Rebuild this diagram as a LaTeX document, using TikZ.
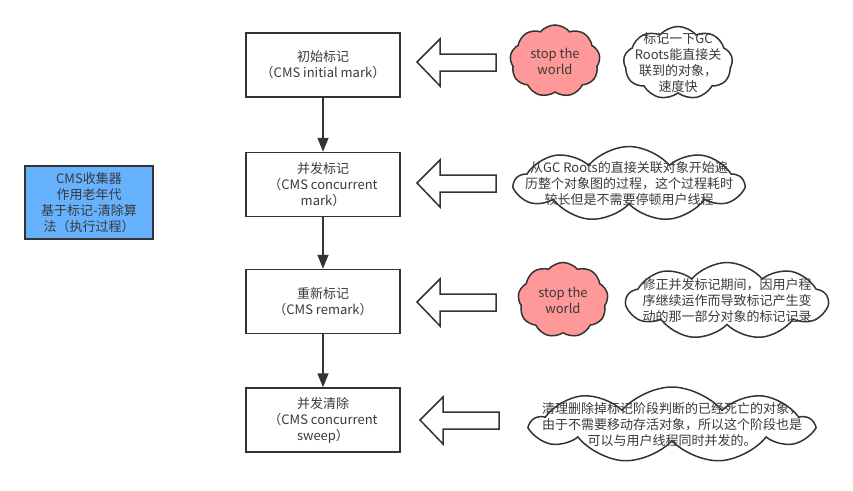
\documentclass[tikz,border=0pt]{standalone}
\usepackage{fontspec}
\setmainfont{Noto Sans CJK SC}
\usepackage{tikz}
\usetikzlibrary{arrows.meta,shapes.symbols}
\definecolor{ink}{HTML}{333333}
\definecolor{txt}{HTML}{3A3A3A}
\definecolor{blue}{HTML}{66B2FF}
\definecolor{red}{HTML}{FF9999}
\tikzset{
  stage/.style={draw=ink, line width=1.5pt, fill=white, minimum width=154pt, minimum height=64pt, align=center, text=txt, inner sep=0pt},
  info/.style={draw=ink, line width=1.5pt, fill=blue, minimum width=128pt, minimum height=73pt, align=center, text=txt, inner sep=0pt},
  flow/.style={draw=ink, line width=1.5pt, -{Triangle[length=14pt,width=11pt]}},
  fat/.style={draw=ink, line width=1.5pt, fill=white, line join=miter},
  puff/.style={cloud, cloud puffs=9, cloud puff arc=100, draw=ink, line width=1.5pt, fill=white, inner sep=0pt},
  stw/.style={puff, fill=red},
  lab/.style={text=txt, align=center, inner sep=0pt},
}

\begin{document}
\begin{tikzpicture}[x=1pt, y=-1pt, font=\fontsize{13}{16}\selectfont]
  \useasboundingbox (0,0) rectangle (853,490);
  \node[info] (cms) at (89,202.5) {CMS收集器\\作用老年代\\基于标记-清除算\\法（执行过程）};
  \node[stage] (b1) at (323,65) {初始标记\\（CMS initial mark）};
  \node[stage] (b2) at (323,184.5) {并发标记\\（CMS concurrent\\mark）};
  \node[stage] (b3) at (323,301.5) {重新标记\\（CMS remark）};
  \node[stage] (b4) at (323,420) {并发清除\\（CMS concurrent\\sweep）};
  \draw[flow] (b1) -- (b2);
  \draw[flow] (b2) -- (b3);
  \draw[flow] (b3) -- (b4);
  \foreach \x/\y in {417/62, 417/183, 417/302, 420/420}
    \draw[fat] (\x,\y) -- ++(23,-23) -- ++(0,15) -- ++(56,0) -- ++(0,17)
      -- ++(-56,0) -- ++(0,15) -- cycle;
  \node[stw, minimum width=90pt, minimum height=72pt,
    label={[lab]center:stop the\\world}] (sw1) at (555,61) {};
  \node[puff, minimum width=109pt, minimum height=73pt,
    label={[lab]center:标记一下GC\\Roots能直接关\\联到的对象，\\速度快}] (c1) at (678,63) {};
  \node[puff, minimum width=228pt, minimum height=75pt,
    label={[lab]center:从GC Roots的直接关联对象开始遍\\历整个对象图的过程，这个过程耗时\\较长但是不需要停顿用户线程}] (c2) at (629,184) {};
  \node[stw, minimum width=90pt, minimum height=75pt,
    label={[lab]center:stop the\\world}] (sw2) at (563,300) {};
  \node[puff, minimum width=201pt, minimum height=77pt,
    label={[lab]center:修正并发标记期间，因用户程\\序继续运作而导致标记产生变\\动的那一部分对象的标记记录}] (c3) at (727,301) {};
  \node[puff, minimum width=280pt, minimum height=76pt,
    label={[lab]center:清理删除掉标记阶段判断的已经死亡的对象，\\由于不需要移动存活对象，所以这个阶段也是\\可以与用户线程同时并发的。}] (c4) at (672,425) {};
\end{tikzpicture}
\end{document}
